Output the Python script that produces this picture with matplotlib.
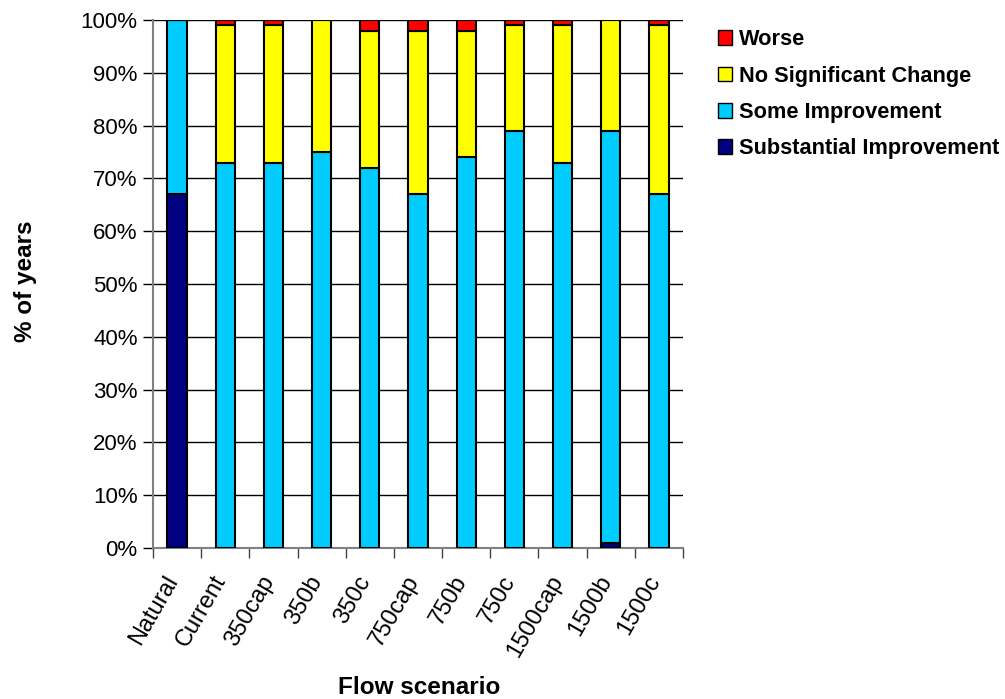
import matplotlib
matplotlib.use("Agg")
import matplotlib.pyplot as plt
from matplotlib.patches import Patch
from matplotlib.ticker import PercentFormatter
from matplotlib.transforms import ScaledTranslation
import numpy as np

plt.rcParams['font.family'] = ['Liberation Sans', 'DejaVu Sans']

scenarios = ['Natural', 'Current', '350cap', '350b', '350c', '750cap',
             '750b', '750c', '1500cap', '1500b', '1500c']
substantial = [67, 0, 0, 0, 0, 0, 0, 0, 0, 1, 0]
some = [33, 73, 73, 75, 72, 67, 74, 79, 73, 78, 67]
no_change = [0, 26, 26, 25, 26, 31, 24, 20, 26, 21, 32]
worse = [0, 1, 1, 0, 2, 2, 2, 1, 1, 0, 1]

series = [
    ('Substantial Improvement', substantial, '#000080'),
    ('Some Improvement', some, '#00CCFF'),
    ('No Significant Change', no_change, '#FFFF00'),
    ('Worse', worse, '#FF0000'),
]

fig = plt.figure(figsize=(10.05, 6.99), dpi=100)
ax = fig.add_axes([0.1522, 0.216, 0.5274, 0.7554])

x = np.arange(len(scenarios))
bottom = np.zeros(len(scenarios))
for name, vals, col in series:
    vals = np.array(vals, dtype=float)
    ax.bar(x, vals, 0.4, bottom=bottom, color=col, edgecolor='black',
           linewidth=1.5, zorder=3)
    bottom += vals

ax.set_xlim(-0.5, len(scenarios) - 0.5)
ax.set_ylim(0, 100)
ax.set_yticks(np.arange(0, 101, 10))
ax.yaxis.set_major_formatter(PercentFormatter(decimals=0))
ax.yaxis.grid(True, color='black', linewidth=1.0, zorder=0)
ax.set_axisbelow(True)

ax.set_xticks(x)
ax.set_xticklabels(scenarios, rotation=60, ha='right', va='center',
                   rotation_mode='anchor')
ax.set_xticks(np.arange(-0.5, len(scenarios)), minor=True)
ax.tick_params(axis='x', which='major', length=0, labelsize=17, pad=21)
ax.tick_params(axis='x', which='minor', length=7, width=1, direction='out',
               color='#404040')
ax.tick_params(axis='y', labelsize=16, length=7, width=1, direction='out', pad=4)

# nudge the slanted labels a little to the left
shift = ScaledTranslation(-4 / 100, 0, fig.dpi_scale_trans)
for lbl in ax.get_xticklabels():
    lbl.set_transform(lbl.get_transform() + shift)

for s in ['top', 'right']:
    ax.spines[s].set_visible(False)
for s in ['left', 'bottom']:
    ax.spines[s].set_color('#808080')
    ax.spines[s].set_linewidth(1.5)

fig.text(0.025, 0.598, '% of years', fontsize=17.5, fontweight='bold',
         rotation=90, ha='center', va='center')
fig.text(0.417, 0.017, 'Flow scenario', fontsize=17.5, fontweight='bold',
         ha='center', va='center')

handles = [Patch(facecolor=col, edgecolor='black', label=name)
           for name, vals, col in reversed(series)]
fig.legend(handles=handles, loc='upper left', bbox_to_anchor=(0.714, 0.958),
           frameon=False, prop={'weight': 'bold', 'size': 15.7},
           handlelength=0.65, handleheight=0.65, handletextpad=0.35,
           labelspacing=0.7, borderaxespad=0, borderpad=0)

fig.savefig('out.png', dpi=100)
